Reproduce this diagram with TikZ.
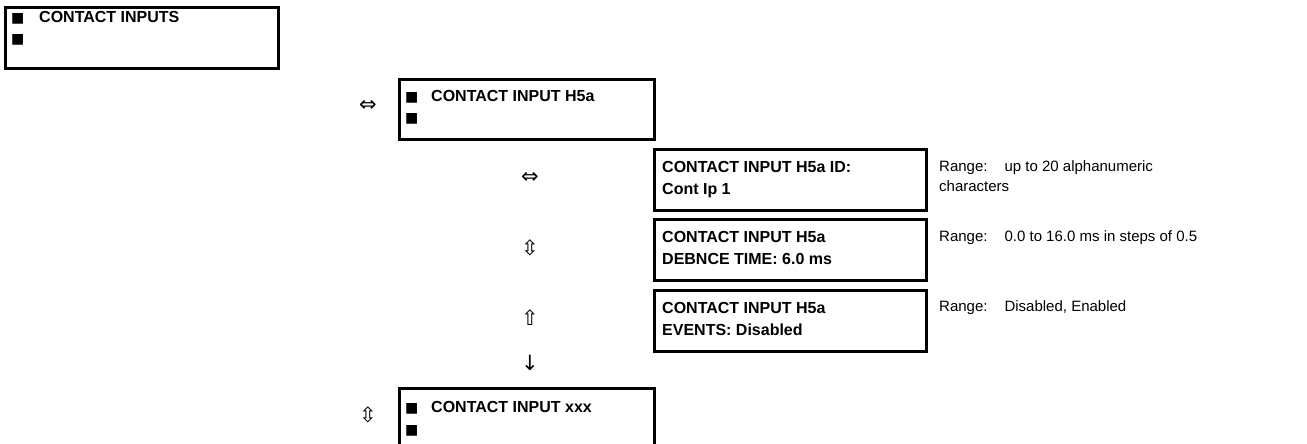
\documentclass[tikz,border=0pt]{standalone}
\usepackage{fontspec}
\setmainfont{Liberation Sans}
\newfontfamily\symfont{DejaVu Sans}
\begin{document}
\begin{tikzpicture}[x=1pt,y=-1pt,
  menubox/.style={draw, line width=2.7pt, anchor=north west, inner sep=0pt, minimum width=#1},
  menubox/.default=273pt,
  boxtext/.style={anchor=base west, inner sep=0pt, font=\fontsize{16}{22}\selectfont\bfseries},
  sqtext/.style={anchor=base west, inner sep=0pt, font=\symfont\fontsize{14}{14}\selectfont},
  rangetext/.style={anchor=base west, inner sep=0pt, font=\fontsize{15}{22}\selectfont},
  navarrow/.style={inner sep=0pt, font=\symfont\fontsize{21}{21}\selectfont}]
\useasboundingbox (0,0) rectangle (1307,444);
\clip (0,0) rectangle (1307,444);
% boxes
\node[menubox=273pt, minimum height=61pt] (b1) at (4,6) {};
\node[menubox=255pt, minimum height=60pt] (b2) at (398,78) {};
\node[menubox=272pt, minimum height=61pt] (b3) at (653,148) {};
\node[menubox=272pt, minimum height=61pt] (b4) at (653,218) {};
\node[menubox=272pt, minimum height=61pt] (b5) at (653,289) {};
\node[menubox=255pt, minimum height=80pt] (b6) at (398,387) {};
% box 1 text
\node[sqtext] (s1a) at (11,23) {■};
\node[boxtext] (t1) at (39,23) {CONTACT INPUTS};
\node[sqtext] (s1b) at (11,44) {■};
% box 2 text
\node[sqtext] (s2a) at (405,101) {■};
\node[boxtext] (t2) at (431,101) {CONTACT INPUT H5a};
\node[sqtext] (s2b) at (405,122) {■};
% settings
\node[boxtext] (t3a) at (662,172) {CONTACT INPUT H5a ID:};
\node[boxtext] (t3b) at (662,194) {Cont Ip 1};
\node[boxtext] (t4a) at (662,242) {CONTACT INPUT H5a};
\node[boxtext] (t4b) at (662,264) {DEBNCE TIME: 6.0 ms};
\node[boxtext] (t5a) at (662,313) {CONTACT INPUT H5a};
\node[boxtext] (t5b) at (662,335) {EVENTS: Disabled};
% box 6 text
\node[sqtext] (s6a) at (405,412) {■};
\node[boxtext] (t6) at (431,412) {CONTACT INPUT xxx};
\node[sqtext] (s6b) at (405,434) {■};
% ranges
\node[rangetext] (r3a) at (939,171) {Range:\hspace{17pt}up to 20 alphanumeric};
\node[rangetext] (r3b) at (939,191) {characters};
\node[rangetext] (r4) at (939,241) {Range:\hspace{17pt}0.0 to 16.0 ms in steps of 0.5};
\node[rangetext] (r5) at (939,311) {Range:\hspace{17pt}Disabled, Enabled};
% navigation arrows
\node[navarrow] (a2) at (368,106) {⇔};
\node[navarrow] (a3) at (530,178) {⇔};
\node[navarrow] (a4) at (530,248) {⇳};
\node[navarrow] (a5) at (530,318) {⇧};
\node[navarrow] (a6) at (530,363) {↓};
\node[navarrow] (a7) at (368,415) {⇳};
\end{tikzpicture}
\end{document}
